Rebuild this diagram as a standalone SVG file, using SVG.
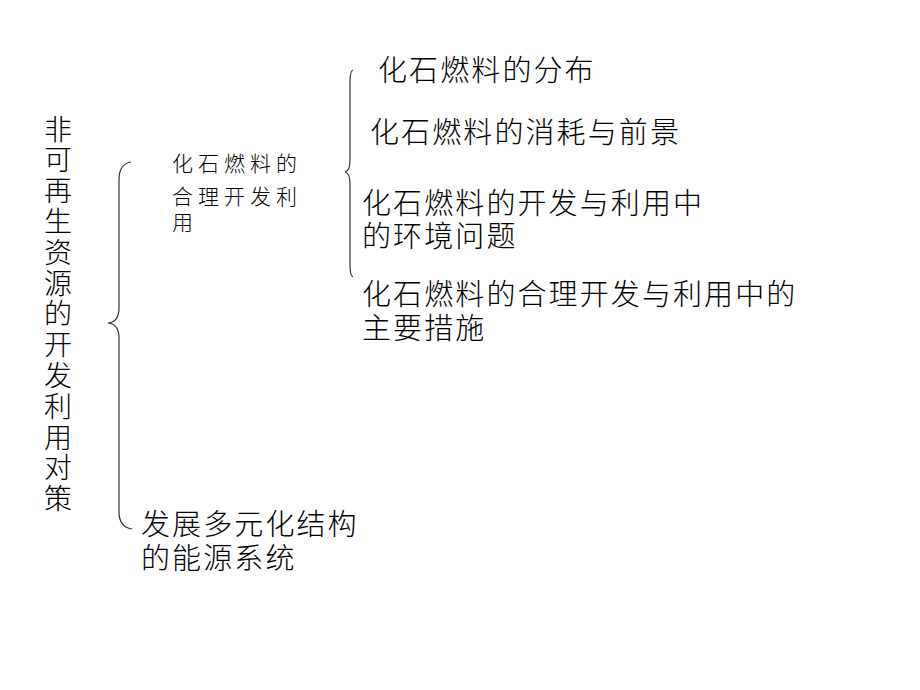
<svg xmlns="http://www.w3.org/2000/svg" width="920" height="690" viewBox="0 0 920 690">
<style>
text{font-family:"Liberation Sans","Noto Sans CJK SC",sans-serif;fill:#000;font-weight:300}
.big{font-size:29px;letter-spacing:2.1px}
.vert{font-family:"Noto Sans CJK SC",sans-serif;font-size:28px;writing-mode:vertical-rl;letter-spacing:2.8px}
.mid{font-size:21px;letter-spacing:5px}
.brace{fill:none;stroke:#333;stroke-width:1.2}
</style>
<rect width="920" height="690" fill="#fff"/>
<g id="root">
<text class="vert" x="58" y="115">非可再生资源的开发利用对策</text>
</g>
<g id="connectors">
<path class="brace" d="M131,162 Q119,164 119,180 L119,308 Q119,322 108,323 Q119,324 119,338 L119,512 Q119,527 132,529"/>
<path class="brace" d="M353,70 Q350,71 350,82 L350,160 Q350,171 345,172 Q350,173 350,184 L350,264 Q350,276 353,277"/>
</g>
<g id="fossil">
<text class="mid"><tspan x="172" y="170.5">化石燃料的</tspan><tspan x="172" y="203.5">合理开发利</tspan><tspan x="172" y="229.5">用</tspan></text>
</g>
<g id="distribution"><text class="big" x="378" y="81">化石燃料的分布</text></g>
<g id="consumption"><text class="big" x="370" y="143">化石燃料的消耗与前景</text></g>
<g id="environment">
<text class="big"><tspan x="362" y="213.5">化石燃料的开发与利用中</tspan><tspan x="362" y="246.5">的环境问题</tspan></text>
</g>
<g id="measures">
<text class="big"><tspan x="362" y="305">化石燃料的合理开发与利用中的</tspan><tspan x="362" y="339">主要措施</tspan></text>
</g>
<g id="diversified">
<text class="big"><tspan x="141" y="535">发展多元化结构</tspan><tspan x="141" y="568.5">的能源系统</tspan></text>
</g>
</svg>
